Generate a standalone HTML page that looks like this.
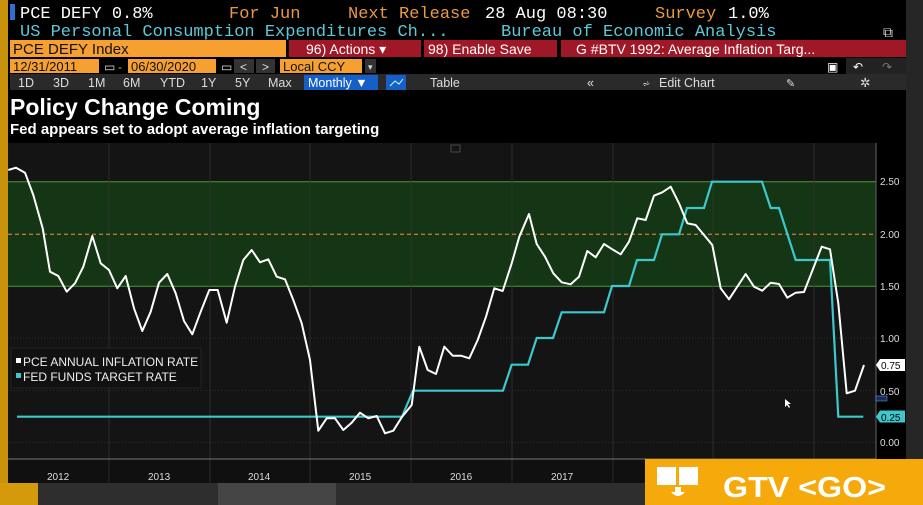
<!DOCTYPE html>
<html><head><meta charset="utf-8"><style>
html,body{margin:0;padding:0;background:#000;width:923px;height:505px;overflow:hidden}
svg{display:block}
.m{font-family:"Liberation Mono",monospace}
.s{font-family:"Liberation Sans",sans-serif}
</style></head><body>
<svg width="923" height="505" viewBox="0 0 923 505" xmlns="http://www.w3.org/2000/svg">
<rect width="923" height="505" fill="#000"/>
<!-- right strip -->
<rect x="906" y="0" width="17" height="505" fill="#262626"/>
<!-- bottom grey area -->
<rect x="0" y="483" width="923" height="22" fill="#2e2e2e"/>
<rect x="218" y="483" width="118" height="22" fill="#454545"/>
<rect x="0" y="0" width="8" height="505" fill="#c8920c"/>
<rect x="0" y="483" width="38" height="22" fill="#d49a0c"/>
<!-- header row1 -->
<rect x="10" y="4" width="5" height="16" fill="#2f6fd0"/>
<g class="m" font-size="17">
<text x="20" y="18" fill="#fff">PCE DEFY 0.8%</text>
<text x="229" y="18" fill="#e89a40">For Jun</text>
<text x="348" y="18" fill="#e89a40">Next Release</text>
<text x="485" y="18" fill="#fff">28 Aug 08:30</text>
<text x="655" y="18" fill="#e89a40">Survey</text>
<text x="728" y="18" fill="#fff">1.0%</text>
<text x="20" y="36" fill="#5cc8d8">US Personal Consumption Expenditures Ch...</text>
<text x="501" y="36" fill="#5cc8d8">Bureau of Economic Analysis</text>
</g>
<text x="883" y="37" fill="#ddd" class="s" font-size="14">⧉</text>
<!-- row3 -->
<rect x="10" y="40" width="276" height="17" fill="#f5a030"/>
<text x="13" y="54" class="s" font-size="15" fill="#111">PCE DEFY Index</text>
<rect x="289" y="40" width="132" height="17" fill="#a01828"/>
<rect x="424" y="40" width="133" height="17" fill="#a01828"/>
<rect x="561" y="40" width="345" height="17" fill="#a01828"/>
<g class="s" font-size="14" fill="#fff">
<text x="306" y="54">96) Actions ▾</text>
<text x="428" y="54">98) Enable Save</text>
<text x="576" y="54">G #BTV 1992: Average Inflation Targ...</text>
</g>
<!-- row4 -->
<rect x="10" y="59" width="89" height="14" fill="#f5a030"/>
<rect x="128" y="59" width="88" height="14" fill="#f5a030"/>
<rect x="234" y="59" width="20" height="14" fill="#333"/>
<rect x="256" y="59" width="19" height="14" fill="#333"/>
<rect x="280" y="59" width="82" height="14" fill="#f5a030"/>
<rect x="365" y="59" width="11" height="14" fill="#333"/>
<g class="s" font-size="13" fill="#111">
<text x="13" y="71">12/31/2011</text>
<text x="131" y="71">06/30/2020</text>
<text x="283" y="71">Local CCY</text>
</g>
<g class="s" font-size="12" fill="#ddd">
<text x="104" y="71">▭</text><text x="118" y="71" fill="#f5a030">-</text>
<text x="221" y="71">▭</text><text x="240" y="71">&lt;</text><text x="262" y="71">&gt;</text>
<text x="368" y="70" font-size="9">▾</text>
</g>
<rect x="846" y="58" width="60" height="16" fill="#222"/>
<text x="827" y="71" class="s" font-size="12" fill="#fff">▣</text>
<text x="853" y="71" class="s" font-size="12" fill="#fff">↶</text>
<text x="882" y="71" class="s" font-size="12" fill="#777">↷</text>
<!-- row5 -->
<rect x="10" y="74" width="896" height="16" fill="#2a2a2a"/>
<g class="s" font-size="12.5" fill="#ddd">
<text x="18" y="87">1D</text><text x="53" y="87">3D</text><text x="88" y="87">1M</text>
<text x="123" y="87">6M</text><text x="160" y="87">YTD</text><text x="201" y="87">1Y</text>
<text x="235" y="87">5Y</text><text x="268" y="87">Max</text>
</g>
<rect x="304" y="75" width="74" height="15" fill="#1560c8"/>
<text x="308" y="87" class="s" font-size="12.5" fill="#fff">Monthly ▼</text>
<rect x="386" y="75" width="20" height="15" fill="#1560c8"/>
<polyline points="390,86 395,81 399,84 403,79" fill="none" stroke="#cfe" stroke-width="1"/>
<g class="s" font-size="12.5" fill="#ddd">
<text x="430" y="87">Table</text><text x="587" y="87">«</text>
<text x="659" y="87">Edit Chart</text><text x="642" y="87" font-size="10">⩫</text>
<text x="786" y="87" font-size="11">✎</text><text x="860" y="87">✲</text>
</g>
<!-- titles -->
<text x="10" y="115" class="s" font-size="23" font-weight="bold" fill="#fff">Policy Change Coming</text>
<text x="10" y="134" class="s" font-size="15" font-weight="bold" fill="#fff">Fed appears set to adopt average inflation targeting</text>
<!-- chart -->
<rect x="8" y="143" width="868" height="316" fill="#141414"/>
<rect x="8" y="459" width="898" height="24" fill="#101010"/>
<rect x="876" y="143" width="30" height="316" fill="#000"/>
<rect x="8" y="181.7" width="868" height="104.5" fill="#143614"/>
<line x1="8" y1="181.7" x2="876" y2="181.7" stroke="#4a9a3a" stroke-width="1"/>
<line x1="8" y1="286.2" x2="876" y2="286.2" stroke="#4a9a3a" stroke-width="1"/>
<g stroke="#3a3a3a" stroke-width="0.7" stroke-dasharray="1,2">
<line x1="8" y1="338" x2="876" y2="338"/><line x1="8" y1="390.7" x2="876" y2="390.7"/><line x1="8" y1="442.7" x2="876" y2="442.7"/>
</g>
<g stroke="#333" stroke-width="0.8">
<line x1="109" y1="143" x2="109" y2="483"/><line x1="210" y1="143" x2="210" y2="483"/>
<line x1="310" y1="143" x2="310" y2="483"/><line x1="411" y1="143" x2="411" y2="483"/>
<line x1="512" y1="143" x2="512" y2="483"/><line x1="613" y1="143" x2="613" y2="483"/>
<line x1="713" y1="143" x2="713" y2="483"/><line x1="814" y1="143" x2="814" y2="483"/>
</g>
<line x1="8" y1="459" x2="876" y2="459" stroke="#777" stroke-width="1"/>
<line x1="876" y1="143" x2="876" y2="459" stroke="#666" stroke-width="1"/>
<line x1="8" y1="234.3" x2="876" y2="234.3" stroke="#c07040" stroke-width="1.3" stroke-dasharray="4,3"/>
<rect x="451" y="145" width="9" height="7" fill="none" stroke="#555" stroke-width="0.8"/>
<g class="s" font-size="10" fill="#ddd">
<text x="47" y="480">2012</text><text x="148" y="480">2013</text><text x="248" y="480">2014</text>
<text x="349" y="480">2015</text><text x="450" y="480">2016</text><text x="551" y="480">2017</text>
</g>
<g class="s" font-size="10" fill="#ddd">
<text x="880" y="185">2.50</text><text x="880" y="238">2.00</text><text x="880" y="290">1.50</text>
<text x="880" y="342">1.00</text><text x="880" y="395">0.50</text><text x="880" y="446">0.00</text>
</g>
<!-- legend -->
<rect x="11" y="348" width="190" height="40" fill="#111" stroke="#222"/>
<rect x="16" y="358" width="5" height="5" fill="#fff"/>
<rect x="16" y="373" width="5" height="5" fill="#3cc8cc"/>
<text x="23" y="366" class="s" font-size="12" fill="#eee">PCE ANNUAL INFLATION RATE</text>
<text x="23" y="381" class="s" font-size="12" fill="#eee">FED FUNDS TARGET RATE</text>
<!-- cyan -->
<polyline fill="none" stroke="#3cc8cc" stroke-width="2.2" points="17,416.7 402,416.7 413,390.7 503,390.7 511.7,364.7 528,364.7 536.7,338 553,338 561.7,312.3 604,312.3 612,286 629,286 637,260 654,260 662,234.3 679,234.3 687,208 704,208 712,181.7 762,181.7 770.7,208 779,208 795.7,260 830,260 838.3,416.7 863.3,416.7"/>
<!-- white -->
<polyline fill="none" stroke="#fff" stroke-width="2" stroke-linejoin="round" points="8.3,170 16,167.7 25,172.7 33.3,195 42.7,228.3 50,271.7 58.3,276 66.7,291.7 75,283.3 83.3,266.7 92.3,236 100.7,263.3 109,270 117.3,288.3 125.7,276 134,308.3 142.3,331 150.7,311.7 159,282.7 167.3,274 175.7,293.3 184,321 192.3,334.3 200.7,311.7 209.3,290 217.7,290 226.7,322.7 235,286.7 243.3,260 251.7,250 260,262.3 268.3,259.3 276.7,276.7 285,279.3 293.3,300 301.7,323.3 310,360 318.3,430.7 326.7,418.3 335,418.3 343.3,430 351.7,422.7 360,412.7 368.3,418.3 376.7,416 385,433.3 393.3,430.7 401.7,417.3 411.7,405 419.3,346.7 427.7,370 436,374 444.3,346.7 452.7,355.7 461,355.7 469.3,358.3 477.7,340 486,316.7 494.3,288.3 502.7,291 511.7,263.3 519.3,236.7 529,214 536.7,244 545,256.7 553.3,273.3 561.7,282.3 570.7,284.3 579,276.7 587.3,251 595.7,257.3 604,244 612.3,249.3 620.7,254.3 629,241.7 637.3,218.3 645.7,220 654,195.7 662.3,192.3 670.7,186.7 679,203.3 687.3,223.3 695.7,225 704,235 712.3,245 720.7,288.3 729,299.3 737.3,286.7 745.7,274 754,286.7 762.3,290.7 770.7,282.7 779,284 787.3,297.7 795.7,292.7 804,292 812.3,270.7 821.7,246.7 830,249.3 838.3,303.3 846.7,393.3 855,390.7 864,365"/>
<!-- value tags -->
<polygon points="876,365 880,359 905,359 905,371 880,371" fill="#fff"/>
<text x="881" y="369" class="s" font-size="10" fill="#000">0.75</text>
<polygon points="876,416.7 880,410.5 905,410.5 905,422.5 880,422.5" fill="#3cc8cc"/>
<text x="881" y="421" class="s" font-size="10" fill="#000">0.25</text>
<rect x="876" y="396" width="11" height="5" fill="#226" stroke="#3cc8cc" stroke-width="0.5"/>
<!-- GTV -->
<rect x="645" y="459" width="278" height="46" fill="#f5a90a"/>
<rect x="657" y="467" width="19" height="18" fill="#fff"/>
<rect x="679" y="467" width="19" height="18" fill="#fff"/>
<rect x="675" y="487" width="6" height="5" fill="#fff"/>
<path d="M671,492 Q678,500 685,492" fill="#fff"/>
<text x="723" y="497" class="s" font-size="29" font-weight="bold" fill="#fff" textLength="163" lengthAdjust="spacingAndGlyphs">GTV &lt;GO&gt;</text>
<!-- cursor -->
<path d="M785,399 L785,407 L787,405 L789,408 L790,407 L788,404 L791,404 Z" fill="#fff"/>
</svg>
</body></html>
